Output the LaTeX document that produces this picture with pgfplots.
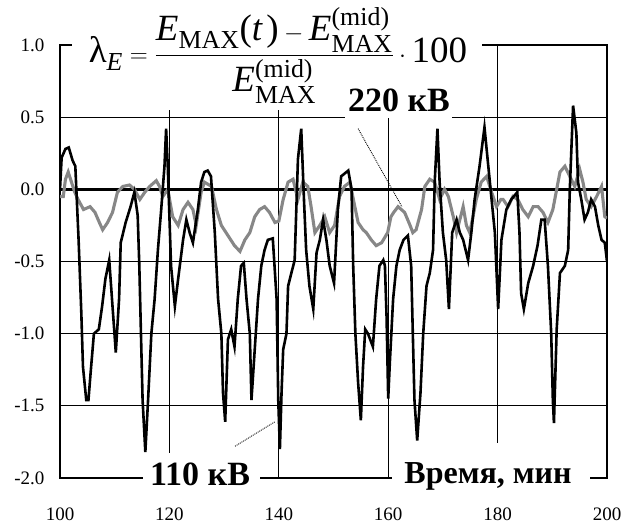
\documentclass[border=0pt]{standalone}
\usepackage{amsmath}
\usepackage{fontspec}
\setmainfont{Liberation Serif}
\usepackage{pgfplots}
\pgfplotsset{compat=1.18}
\begin{document}
\begin{tikzpicture}
\begin{axis}[
  set layers,
  at={(0,0)}, anchor=south west,
  scale only axis, width=547pt, height=433pt,
  xmin=100, xmax=200, ymin=-2, ymax=1,
  xtick={100,120,140,160,180,200},
  ytick={-2,-1.5,-1,-0.5,0,0.5,1},
  xticklabels={100,120,140,160,180,200},
  yticklabels={-2.0,-1.5,-1.0,-0.5,0.0,0.5,1.0},
  grid=major, major grid style={black, line width=1pt},
  major tick length=0pt,
  axis line style={line width=2.8pt},
  tick label style={font=\fontsize{19}{20}\selectfont},
  xticklabel shift=26pt,
  yticklabel shift=12pt,
  extra y ticks={0}, extra y tick labels={},
  extra y tick style={grid=major, major grid style={black, line width=2.8pt}},
]
\addplot[color={rgb,255:red,135;green,135;blue,135}, line width=3.1pt] coordinates {
(100,-0.05) (100.6,-0.05) (101.0,0.07) (101.5,0.12) (102.1,0.05) (102.7,-0.02) (103.3,-0.07) (104.3,-0.14) (105.5,-0.12) (106.4,-0.16) (107.2,-0.23) (107.8,-0.28) (108.7,-0.23) (109.6,-0.16) (110.5,-0.02) (111.5,0.02) (112.7,0.03) (113.6,0.0) (114.6,-0.07) (115.5,-0.02) (116.4,0.02) (117.6,0.06) (118.2,0.02) (118.8,-0.05) (119.7,0.0) (120.6,-0.19) (121.6,-0.25) (122.5,-0.14) (123.4,-0.09) (124.3,-0.14) (124.9,-0.25) (125.8,-0.02) (126.4,0.05) (127.7,0.02) (128.6,-0.14) (129.5,-0.25) (130.7,-0.32) (131.9,-0.39) (132.9,-0.43) (133.8,-0.35) (134.7,-0.3) (135.6,-0.19) (136.5,-0.14) (137.4,-0.12) (138.3,-0.16) (139.3,-0.23) (140.0,-0.22) (140.8,-0.07) (141.7,0.05) (142.6,0.07) (143.5,-0.07) (144.4,0.05) (145.3,0.02) (145.9,-0.12) (146.6,-0.3) (147.5,-0.25) (148.4,-0.19) (149.3,-0.3) (150.2,-0.25) (151.1,-0.05) (152.0,0.02) (153.0,0.05) (153.9,-0.12) (154.5,-0.23) (155.4,-0.28) (156.0,-0.3) (156.9,-0.35) (157.8,-0.39) (158.8,-0.37) (159.9,-0.3) (160.5,-0.19) (161.0,-0.16) (161.8,-0.12) (163.0,-0.16) (164.0,-0.25) (164.5,-0.3) (165.1,-0.28) (166.1,-0.14) (166.7,0.02) (167.6,0.07) (168.5,0.05) (169.4,-0.07) (170.3,0.0) (171.0,-0.05) (171.9,-0.19) (172.5,-0.3) (173.1,-0.21) (173.7,-0.12) (174.3,-0.25) (174.9,-0.3) (175.5,-0.19) (176.1,-0.07) (177.0,0.05) (178.0,0.09) (178.9,-0.02) (179.8,-0.12) (180.6,-0.07) (181.0,-0.07) (181.9,-0.12) (182.8,-0.05) (183.7,-0.07) (184.6,-0.14) (185.6,-0.19) (186.5,-0.12) (187.4,-0.12) (188.3,-0.16) (189.2,-0.23) (190.1,-0.14) (190.7,-0.02) (191.4,0.12) (192.3,0.16) (193.2,0.09) (194.1,0.02) (195.0,0.14) (195.6,0.05) (196.2,-0.07) (197.1,-0.12) (198.1,-0.05) (199.0,0.02) (199.6,-0.19) (200,-0.2)
};
\addplot[black, line width=2.6pt] coordinates {
(100,0.0) (100.3,0.22) (101,0.28) (101.6,0.29) (102.3,0.2) (102.8,0.16) (103.4,-0.35) (103.9,-0.86) (104.2,-1.23) (104.8,-1.46) (105.2,-1.46) (105.6,-1.27) (106.2,-1.0) (107.1,-0.97) (107.7,-0.81) (108.3,-0.62) (109.0,-0.49) (109.6,-0.81) (110.2,-1.13) (110.8,-0.76) (111.1,-0.37) (112.0,-0.23) (112.9,-0.12) (113.6,-0.02) (114.2,-0.18) (114.5,-0.53) (114.8,-1.0) (115.1,-1.46) (115.6,-1.82) (116.1,-1.46) (116.7,-1.0) (117.3,-0.76) (117.9,-0.42) (118.5,-0.14) (119.1,0.16) (119.4,0.42) (119.7,0.16) (120.3,-0.53) (121.0,-0.81) (121.6,-0.62) (122.5,-0.35) (123.1,-0.21) (123.7,-0.3) (124.3,-0.37) (125.2,-0.14) (125.8,0.05) (126.4,0.12) (127.0,0.13) (127.6,0.09) (128.3,-0.3) (128.9,-0.76) (129.5,-1.0) (129.8,-1.41) (130.2,-1.61) (130.7,-1.04) (131.3,-0.97) (131.9,-1.09) (132.5,-0.76) (133.1,-0.53) (133.6,-0.51) (134.1,-0.76) (134.7,-1.0) (135.0,-1.46) (135.6,-1.11) (136.2,-0.76) (136.8,-0.53) (137.4,-0.42) (138.0,-0.35) (138.9,-0.34) (139.6,-0.76) (139.9,-1.46) (140.2,-1.8) (140.5,-1.41) (140.8,-1.11) (141.4,-1.0) (141.7,-0.67) (142.3,-0.58) (142.9,-0.49) (143.2,-0.14) (143.5,0.21) (144.1,0.42) (144.6,-0.07) (145.0,-0.42) (145.6,-0.67) (146.3,-0.83) (146.9,-0.44) (147.5,-0.35) (148.1,-0.21) (148.7,-0.35) (149.3,-0.53) (150.1,-0.65) (150.8,-0.14) (151.4,0.09) (152.7,0.13) (153.3,0.0) (153.6,-0.53) (154.0,-1.0) (154.5,-1.34) (155.0,-1.6) (155.4,-1.23) (155.8,-0.97) (156.3,-1.0) (157.2,-1.09) (157.8,-0.76) (158.4,-0.53) (159.1,-0.49) (159.4,-0.53) (159.7,-0.88) (160.0,-1.45) (160.3,-1.2) (160.9,-0.76) (161.5,-0.53) (162.1,-0.42) (162.8,-0.35) (163.6,-0.32) (164.2,-0.53) (164.5,-1.0) (164.8,-1.46) (165.3,-1.74) (165.9,-1.41) (166.4,-1.0) (167.0,-0.67) (167.6,-0.58) (168.2,-0.42) (168.5,0.05) (169.0,0.42) (169.4,0.05) (170.0,-0.3) (170.6,-0.49) (171.1,-0.83) (171.7,-0.3) (172.5,-0.21) (173.1,-0.3) (173.7,-0.35) (174.6,-0.49) (175.2,-0.3) (175.8,-0.07) (176.7,0.16) (177.6,0.43) (178.3,0.16) (178.9,-0.07) (179.5,-0.3) (180.1,-0.83) (180.7,-0.35) (181.6,-0.14) (182.5,-0.07) (183.6,-0.02) (184.0,-0.3) (184.3,-0.72) (184.8,-0.83) (185.6,-0.65) (186.5,-0.53) (187.3,-0.39) (188.0,-0.21) (188.6,-0.21) (189.2,-0.53) (189.8,-1.0) (190.1,-1.46) (190.3,-1.62) (190.8,-0.97) (191.4,-0.58) (192.3,-0.53) (192.9,-0.42) (193.2,0.0) (193.8,0.58) (194.4,0.39) (194.7,0.05) (195.3,-0.07) (195.9,-0.21) (196.5,-0.16) (197.1,-0.07) (197.8,-0.12) (198.4,-0.25) (199.0,-0.35) (199.6,-0.37) (200,-0.5)
};
\draw[densely dotted, line width=0.9pt] (axis cs:154.5,0.42) -- (axis cs:162.5,-0.12);
\draw[densely dotted, line width=0.9pt] (axis cs:132,-1.78) -- (axis cs:139.3,-1.61);
\begin{pgfonlayer}{axis foreground}
\fill[white] (rel axis cs:0.0219,0.85) rectangle (rel axis cs:0.7715,1.05);
\fill[white] (rel axis cs:0.521,0.832) rectangle (rel axis cs:0.7166,0.915);
\fill[white] (rel axis cs:0.1517,-0.028) rectangle (rel axis cs:0.3656,0.0577);
\fill[white] (rel axis cs:0.607,-0.028) rectangle (rel axis cs:0.969,0.0808);
\node[inner sep=0pt, font=\fontsize{37}{39}\selectfont] at (rel axis cs:0.3985,0.975)
 {$\textup{λ}_{\textit{E}} = \dfrac{\textit{E}_{\textup{MAX}}\textup{(}\textit{t}\,\textup{)} - \textit{E}_{\textup{MAX}}^{\textup{(mid)}}}{\textit{E}_{\textup{MAX}}^{\textup{(mid)}}}\cdot\textup{100}$};
\node[inner sep=0pt, font=\fontsize{34}{36}\selectfont\bfseries] at (rel axis cs:0.6197,0.873) {220 кВ};
\node[inner sep=0pt, font=\fontsize{34}{36}\selectfont\bfseries] at (rel axis cs:0.256,0.0092) {110 кВ};
\node[inner sep=0pt, font=\fontsize{32}{34}\selectfont\bfseries] at (rel axis cs:0.7824,0.0046) {Время, мин};
\end{pgfonlayer}
\end{axis}
\pgfresetboundingbox
\useasboundingbox (-60pt,-48pt) rectangle (568pt,478pt);
\end{tikzpicture}
\end{document}
